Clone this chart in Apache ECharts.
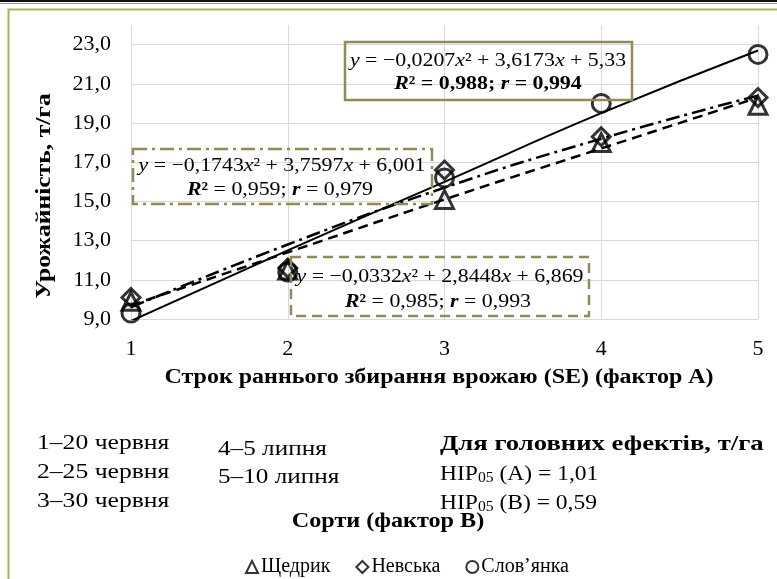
<!DOCTYPE html>
<html><head><meta charset="utf-8">
<script src="https://cdn.jsdelivr.net/npm/echarts@6/dist/echarts.min.js"></script>
<style>html,body{margin:0;padding:0;background:#fff}#c{width:777px;height:579px}</style>
</head><body><div id="c"></div>
<script>
// ---- data ----
const xValues = [1, 2, 3, 4, 5];
const seriesNames = ['Щедрик', 'Невська', 'Слов’янка'];
const shchedryk = [9.9, 11.5, 15.1, 18.0, 19.9];
const nevska = [10.1, 11.6, 16.6, 18.3, 20.3];
const slovianka = [9.3, 11.4, 16.2, 20.0, 22.5];
const trendShchedryk = [9.7, 12.4, 15.1, 17.7, 20.3];
const trendNevska = [9.6, 12.8, 15.7, 18.2, 20.4];
const trendSlovianka = [8.9, 12.5, 16.0, 19.5, 22.7];
const yMin = 9, yMax = 24, yStep = 2;
const xTitle = 'Строк раннього збирання врожаю (SE) (фактор А)';
const yTitle = 'Урожайність, т/га';
const periodsLeft = ['1–20 червня', '2–25 червня', '3–30 червня'];
const periodsRight = ['4–5 липня', '5–10 липня'];
const lsdTitle = 'Для головних ефектів, т/га';
const lsdA = '1,01', lsdB = '0,59';
const legendTitle = 'Сорти (фактор В)';
const eqSlov = ['−0,0207', '3,6173', '5,33', '0,988', '0,994'];
const eqNev = ['−0,1743', '3,7597', '6,001', '0,959', '0,979'];
const eqShch = ['−0,0332', '2,8448', '6,869', '0,985', '0,993'];

const FONT = '"Liberation Serif", "Times New Roman", serif';
const OLIVE = '#948a54';
const pairs = a => xValues.map((x, i) => [x, a[i]]);

const EQ = 19;
const rich = {
  i: {fontStyle: 'italic', fontFamily: FONT, fontSize: EQ, fill: '#000'},
  n: {fontFamily: FONT, fontSize: EQ, fill: '#000'},
  b: {fontWeight: 'bold', fontFamily: FONT, fontSize: EQ, fill: '#000'},
  bi: {fontWeight: 'bold', fontStyle: 'italic', fontFamily: FONT, fontSize: EQ, fill: '#000'}
};
function eqLine1(e) { return '{i|y}{n| = ' + e[0] + '}{i|x}{n|² + ' + e[1] + '}{i|x}{n| + ' + e[2] + '}'; }
function eqLine2(e, boldNums) {
  const s = boldNums ? 'b' : 'n';
  return '{bi|R}{b|²}{' + s + '| = ' + e[3] + '; }{bi|r}{' + s + '| = ' + e[4] + '}';
}
function eqBox(x, y, w, h, dash, e, boldNums, l1x, l1y, l2x, l2y) {
  return [
    {type: 'rect', shape: {x: x, y: y, width: w, height: h}, z: 50,
     style: {fill: 'rgba(255,255,255,0)', stroke: OLIVE, lineWidth: 2.5, lineDash: dash}},
    {type: 'text', x: l1x, y: l1y, z: 51, scaleX: 1.15, style: {text: eqLine1(e), rich: rich, align: 'center', verticalAlign: 'middle', font: EQ + 'px ' + FONT}},
    {type: 'text', x: l2x, y: l2y, z: 51, scaleX: 1.15, style: {text: eqLine2(e, boldNums), rich: rich, align: 'center', verticalAlign: 'middle', font: EQ + 'px ' + FONT}}
  ];
}
function txt(x, y, t, sx, opts) {
  return {type: 'text', x: x, y: y, z: 60, scaleX: sx,
    style: Object.assign({text: t, font: '21px ' + FONT, fill: '#000', verticalAlign: 'middle'}, opts || {})};
}
const sub = {
  a: {fontFamily: FONT, fontSize: 21, fill: '#000'},
  s: {fontFamily: FONT, fontSize: 14, fill: '#000', padding: [9, 0, 0, 0]}
};

const graphics = [
  {type: 'rect', shape: {x: 0, y: 0, width: 777, height: 2}, style: {fill: '#111'}},
  {type: 'rect', shape: {x: 0, y: 3, width: 777, height: 1}, style: {fill: '#999'}},
  {type: 'rect', shape: {x: 8.5, y: 9.5, width: 800, height: 600}, style: {fill: 'none', stroke: '#9bbb59', lineWidth: 2}},
  ...eqBox(345, 42, 287, 58, null, eqSlov, true, 488, 61, 488, 84),
  ...eqBox(133, 149, 299, 55, [14, 5, 3, 5], eqNev, false, 282, 166, 280, 190),
  ...eqBox(291, 257, 298, 59, [10, 6], eqShch, false, 440, 277, 438, 302),
  txt(439, 378, xTitle, 1.2, {font: 'bold 20px ' + FONT, align: 'center'}),
  {type: 'text', x: 45, y: 196, rotation: Math.PI / 2, scaleX: 1.22, z: 60,
   style: {text: yTitle, font: 'bold 21px ' + FONT, fill: '#000', align: 'center', verticalAlign: 'middle'}},
  txt(37, 443, periodsLeft[0], 1.22), txt(37, 472, periodsLeft[1], 1.22), txt(37, 501, periodsLeft[2], 1.22),
  txt(218, 449, periodsRight[0], 1.2), txt(218, 477, periodsRight[1], 1.2),
  txt(440, 445, lsdTitle, 1.27, {font: 'bold 21px ' + FONT}),
  {type: 'text', x: 440, y: 474, z: 60, scaleX: 1.12, style: {text: '{a|НІР}{s|05}{a| (А) = ' + lsdA + '}', rich: sub, verticalAlign: 'middle', font: '21px ' + FONT}},
  {type: 'text', x: 440, y: 503, z: 60, scaleX: 1.12, style: {text: '{a|НІР}{s|05}{a| (В) = ' + lsdB + '}', rich: sub, verticalAlign: 'middle', font: '21px ' + FONT}},
  txt(388, 522, legendTitle, 1.15, {font: 'bold 21px ' + FONT, align: 'center'})
];

const markerStyle = {color: 'rgba(255,255,255,0)', borderColor: '#000', borderWidth: 3};
const chart = echarts.init(document.getElementById('c'), null, {renderer: 'canvas'});
chart.setOption({
  animation: false,
  backgroundColor: '#fff',
  grid: {left: 131, right: 19, top: 25, bottom: 260},
  xAxis: {
    type: 'value', min: 1, max: 5, interval: 1,
    axisLine: {show: true, lineStyle: {color: '#d9d9d9', width: 1}},
    axisTick: {show: false},
    axisLabel: {fontFamily: FONT, fontSize: 22, color: '#000', margin: 19},
    splitLine: {show: true, lineStyle: {color: '#d9d9d9', width: 1}}
  },
  yAxis: {
    type: 'value', min: yMin, max: yMax, interval: yStep,
    axisLine: {show: false}, axisTick: {show: false},
    axisLabel: {fontFamily: FONT, fontSize: 22, color: '#000', margin: 20, showMaxLabel: false,
      formatter: v => v.toFixed(1).replace('.', ',')},
    splitLine: {show: true, showMaxLine: false, lineStyle: {color: '#d9d9d9', width: 1}}
  },
  legend: {
    top: 552, left: 240, itemGap: 25, itemWidth: 12, itemHeight: 12,
    textStyle: {fontFamily: FONT, fontSize: 20, color: '#000', padding: [0, 0, 0, -2]},
    data: [
      {name: seriesNames[0], icon: 'triangle'},
      {name: seriesNames[1], icon: 'diamond'},
      {name: seriesNames[2], icon: 'circle'}
    ]
  },
  graphic: graphics,
  series: [
    {name: 'trend ' + seriesNames[0], type: 'line', data: pairs(trendShchedryk), smooth: true, showSymbol: false,
     lineStyle: {color: '#000', width: 2.5, type: [10, 6]}, z: 3, silent: true},
    {name: 'trend ' + seriesNames[1], type: 'line', data: pairs(trendNevska), smooth: true, showSymbol: false,
     lineStyle: {color: '#000', width: 2.5, type: [14, 5, 3, 5]}, z: 3, silent: true},
    {name: 'trend ' + seriesNames[2], type: 'line', data: pairs(trendSlovianka), smooth: true, showSymbol: false,
     lineStyle: {color: '#000', width: 2}, z: 3, silent: true},
    {name: seriesNames[0], type: 'scatter', data: pairs(shchedryk), symbol: 'triangle', symbolSize: 18, itemStyle: markerStyle, z: 4},
    {name: seriesNames[1], type: 'scatter', data: pairs(nevska), symbol: 'diamond', symbolSize: 18, itemStyle: markerStyle, z: 4},
    {name: seriesNames[2], type: 'scatter', data: pairs(slovianka), symbol: 'circle', symbolSize: 18, itemStyle: markerStyle, z: 4}
  ]
});
</script></body></html>
